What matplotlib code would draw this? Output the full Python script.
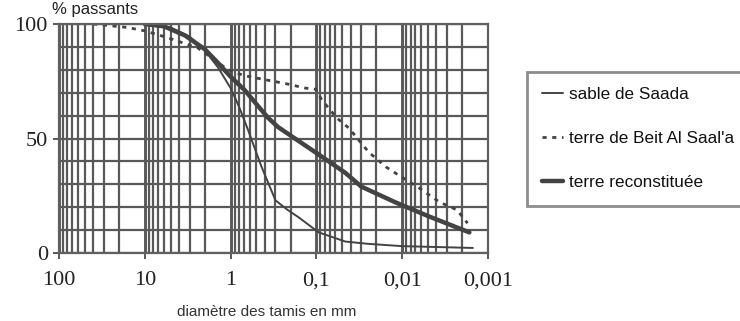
import numpy as np
import matplotlib
matplotlib.use("Agg")
import matplotlib.pyplot as plt
from matplotlib.ticker import LogLocator, NullFormatter, MultipleLocator

# Grain size curves: sieve diameter (mm) vs. percent passing
d_sable = [10, 5, 3, 2, 1.4, 1.0, 0.8, 0.63, 0.44, 0.3, 0.22, 0.16, 0.094, 0.046, 0.025, 0.01, 0.0015]
p_sable = [100, 98.5, 94.5, 88.5, 81, 72, 64, 54, 38, 23, 19, 15.5, 9, 5, 4, 3, 2.2]

d_beit = [40, 16, 10, 5.4, 2.4, 1.07, 0.7, 0.44, 0.23, 0.134, 0.102, 0.087, 0.058, 0.042,
          0.0245, 0.0155, 0.011, 0.00635, 0.0037, 0.0023, 0.00173]
p_beit = [100, 98.5, 97, 94, 89.5, 80, 77.5, 76, 74, 72, 71.5, 67, 59, 54.6,
          44, 37.6, 34, 28.4, 22.3, 18.8, 13]

d_reco = [10, 6, 3.4, 2, 1.4, 1.0, 0.68, 0.5, 0.365, 0.28, 0.17, 0.094, 0.046, 0.030, 0.0118, 0.0049, 0.00165]
p_reco = [100, 99, 95, 89, 83, 77, 71, 65, 59, 55, 49.5, 43, 35, 29, 22, 16, 9]

x_ticks = [100, 10, 1, 0.1, 0.01, 0.001]
x_labels = ["100", "10", "1", "0,1", "0,01", "0,001"]
y_ticks = [0, 50, 100]
y_labels = ["0", "50", "100"]

labels = ["sable de Saada", "terre de Beit Al Saal'a", "terre reconstituée"]

ink = "#434343"
grid_col = "#595959"
serif = "Liberation Serif"
sans = "Liberation Sans"

fig = plt.figure(figsize=(7.4, 3.21), dpi=100)
ax = fig.add_axes([59 / 740, 1 - 253 / 321, 429 / 740, 229 / 321])

ax.set_xscale("log")
ax.set_xlim(100, 0.001)
ax.set_ylim(0, 100)

ax.xaxis.set_minor_locator(LogLocator(base=10, subs=np.arange(2, 10)))
ax.xaxis.set_minor_formatter(NullFormatter())
ax.yaxis.set_minor_locator(MultipleLocator(10))

ax.set_xticks(x_ticks)
ax.set_xticklabels(x_labels, fontfamily=serif, fontsize=16, color="#222222")
ax.set_yticks(y_ticks)
ax.set_yticklabels(y_labels, fontfamily=serif, fontsize=16, color="#222222")

ax.tick_params(axis="both", which="major", direction="out", length=4, width=1.4, color=grid_col)
ax.tick_params(axis="x", which="major", pad=9)
ax.tick_params(axis="y", which="major", pad=4)
ax.tick_params(axis="both", which="minor", length=0)

ax.grid(True, which="major", axis="x", color=grid_col, linewidth=2.1)
ax.grid(True, which="minor", axis="x", color=grid_col, linewidth=1.6)
ax.grid(True, which="both", axis="y", color=grid_col, linewidth=1.6)
ax.set_axisbelow(True)

for s in ax.spines.values():
    s.set_color("#606060")
    s.set_linewidth(1.6)

l1, = ax.plot(d_sable, p_sable, color=ink, linewidth=1.4, solid_capstyle="round")
l2, = ax.plot(d_beit, p_beit, color=ink, linewidth=2.0, linestyle=(0, (1.5, 2.0)))
l3, = ax.plot(d_reco, p_reco, color=ink, linewidth=3.2, solid_capstyle="round")

fig.text(52 / 740, 1 - 14 / 321, "% passants", fontfamily=sans, fontsize=12,
         color="#222222", va="baseline", ha="left")
fig.text(177 / 740, 1 - 316 / 321, "diamètre des tamis en mm", fontfamily=sans,
         fontsize=11, color="#333333", va="baseline", ha="left")

leg = fig.legend([l1, l2, l3], labels, loc="upper left",
                 bbox_to_anchor=(527 / 740, 1 - 72 / 321),
                 prop={"family": sans, "size": 12.3}, frameon=True, fancybox=False,
                 edgecolor="#707070", handlelength=1.2, handletextpad=0.35,
                 labelspacing=1.7, borderpad=0.9, borderaxespad=0)
leg.get_frame().set_linewidth(2.0)
for t in leg.get_texts():
    t.set_color("#111111")

fig.savefig("out.png", dpi=100, facecolor="white")
